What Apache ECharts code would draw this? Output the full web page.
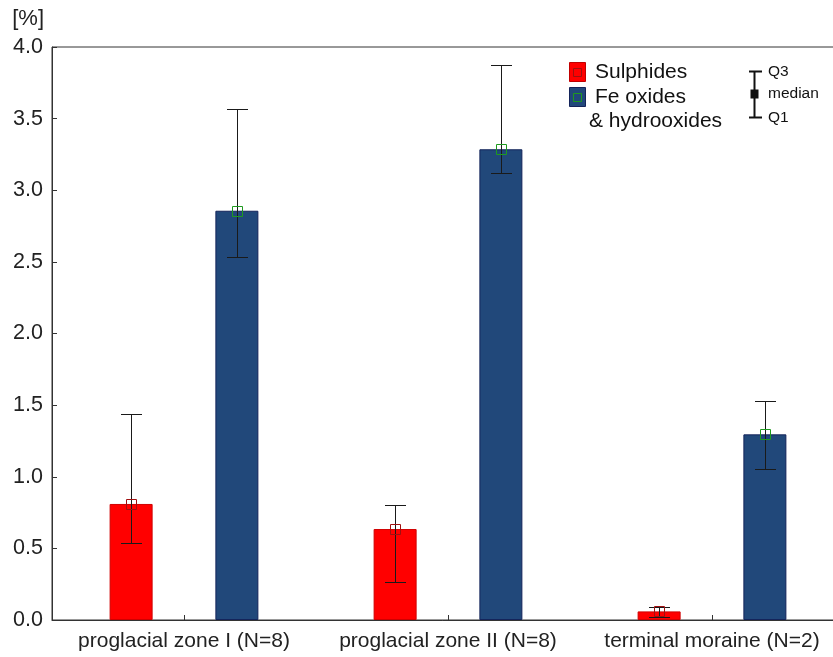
<!DOCTYPE html>
<html>
<head>
<meta charset="utf-8">
<script src="https://cdn.jsdelivr.net/npm/echarts@6/dist/echarts.min.js"></script>
<style>
  html, body { margin: 0; padding: 0; background: #fff; }
  #chart { width: 833px; height: 657px; }
</style>
</head>
<body>
<div id="chart"></div>
<script>
// data
const categories = ['proglacial zone I (N=8)', 'proglacial zone II (N=8)', 'terminal moraine (N=2)'];
const sulphMedian = [0.81, 0.635, 0.06];
const sulphQ1 = [0.535, 0.265, 0.023];
const sulphQ3 = [1.436, 0.80, 0.093];
const feMedian = [2.857, 3.286, 1.296];
const feQ1 = [2.532, 3.118, 1.052];
const feQ3 = [3.567, 3.872, 1.531];
const yTicks = [0, 0.5, 1, 1.5, 2, 2.5, 3, 3.5, 4];

const FONT = 'Liberation Sans, Arial, sans-serif';
const RED = '#ff0000';
const BLUE = '#21487a';

// whisker + median square, shifted left/right of category center
function whiskers(offset, markColor) {
  return function (params, api) {
    const idx = api.value(0);
    const catW = api.size([1, 0])[0];
    const cx = Math.round(api.coord([idx, 0])[0] + offset * catW) + 0.5;
    const yq1 = Math.round(api.coord([idx, api.value(1)])[1]) + 0.5;
    const ymed = api.coord([idx, api.value(2)])[1];
    const yq3 = Math.round(api.coord([idx, api.value(3)])[1]) + 0.5;
    const cap = 10.5;
    const ls = { stroke: '#1a1a1a', lineWidth: 1 };
    return {
      type: 'group',
      children: [
        { type: 'line', shape: { x1: cx, y1: yq3, x2: cx, y2: yq1 }, style: ls },
        { type: 'line', shape: { x1: cx - cap, y1: yq3, x2: cx + cap, y2: yq3 }, style: ls },
        { type: 'line', shape: { x1: cx - cap, y1: yq1, x2: cx + cap, y2: yq1 }, style: ls },
        { type: 'rect', shape: { x: cx - 5, y: Math.round(ymed) - 4.5, width: 10, height: 10 },
          style: { fill: 'none', stroke: markColor, lineWidth: 1 } }
      ]
    };
  };
}

const sulphBox = categories.map((c, i) => [i, sulphQ1[i], sulphMedian[i], sulphQ3[i]]);
const feBox = categories.map((c, i) => [i, feQ1[i], feMedian[i], feQ3[i]]);

const chart = echarts.init(document.getElementById('chart'));
chart.setOption({
  animation: false,
  backgroundColor: '#fff',
  grid: {
    left: 52, width: 792, top: 47, bottom: 37,
    outerBoundsMode: 'none', containLabel: false,
    show: true, borderColor: '#333', borderWidth: 1, backgroundColor: 'transparent'
  },
  xAxis: {
    type: 'category',
    data: categories,
    axisLine: { lineStyle: { color: '#333', width: 1 } },
    axisTick: { show: true, inside: true, alignWithLabel: true, length: 5, lineStyle: { color: '#333' } },
    axisLabel: { color: '#222', fontSize: 21, fontFamily: FONT, margin: 11, interval: 0 },
    splitLine: { show: false }
  },
  yAxis: {
    type: 'value',
    min: 0, max: 4, interval: 0.5,
    name: '[%]',
    nameLocation: 'end',
    nameGap: 28,
    nameTextStyle: { color: '#222', fontSize: 22, fontFamily: FONT, align: 'right', verticalAlign: 'middle', padding: [0, 8, 0, 0] },
    axisLine: { show: true, lineStyle: { color: '#333', width: 1 } },
    axisTick: { show: true, inside: true, length: 5, lineStyle: { color: '#333' } },
    axisLabel: {
      color: '#222', fontSize: 21.5, fontFamily: FONT, margin: 9,
      formatter: v => yTicks.indexOf(v) >= 0 ? v.toFixed(1) : ''
    },
    splitLine: { show: false }
  },
  series: [
    {
      name: 'Sulphides', type: 'bar', data: sulphMedian,
      barWidth: 43, barGap: '146%',
      itemStyle: { color: RED, borderColor: '#d00000', borderWidth: 1 }
    },
    {
      name: 'Fe oxides & hydrooxides', type: 'bar', data: feMedian,
      barWidth: 43,
      itemStyle: { color: BLUE, borderColor: '#14245a', borderWidth: 1 }
    },
    {
      type: 'custom', z: 5, data: sulphBox,
      encode: { x: 0, y: [1, 2, 3] },
      renderItem: whiskers(-0.2, '#a01010')
    },
    {
      type: 'custom', z: 5, data: feBox,
      encode: { x: 0, y: [1, 2, 3] },
      renderItem: whiskers(0.2, '#1f9a1f')
    }
  ],
  graphic: [
    // legend
    { type: 'rect', shape: { x: 569.5, y: 62.5, width: 16, height: 19 }, style: { fill: RED, stroke: '#c00000', lineWidth: 1 } },
    { type: 'rect', shape: { x: 573.5, y: 68.5, width: 8, height: 8 }, style: { fill: 'none', stroke: '#a01010', lineWidth: 1 } },
    { type: 'rect', shape: { x: 569.5, y: 87.5, width: 16, height: 19 }, style: { fill: BLUE, stroke: '#14245a', lineWidth: 1 } },
    { type: 'rect', shape: { x: 573.5, y: 93.5, width: 8, height: 8 }, style: { fill: 'none', stroke: '#1f9a1f', lineWidth: 1 } },
    { type: 'text', x: 595, y: 72, style: { text: 'Sulphides', fill: '#111', font: '21px ' + FONT, verticalAlign: 'middle' } },
    { type: 'text', x: 595, y: 97, style: { text: 'Fe oxides', fill: '#111', font: '21px ' + FONT, verticalAlign: 'middle' } },
    { type: 'text', x: 589, y: 121, style: { text: '& hydrooxides', fill: '#111', font: '21px ' + FONT, verticalAlign: 'middle' } },
    // whisker key
    { type: 'line', shape: { x1: 754.5, y1: 71.5, x2: 754.5, y2: 117.5 }, style: { stroke: '#111', lineWidth: 2 } },
    { type: 'line', shape: { x1: 749, y1: 71.5, x2: 762, y2: 71.5 }, style: { stroke: '#111', lineWidth: 2 } },
    { type: 'line', shape: { x1: 749, y1: 117.5, x2: 762, y2: 117.5 }, style: { stroke: '#111', lineWidth: 2 } },
    { type: 'rect', shape: { x: 750.5, y: 89.5, width: 8, height: 9 }, style: { fill: '#111' } },
    { type: 'text', x: 768, y: 72, style: { text: 'Q3', fill: '#111', font: '15.5px ' + FONT, verticalAlign: 'middle' } },
    { type: 'text', x: 768, y: 94, style: { text: 'median', fill: '#111', font: '15.5px ' + FONT, verticalAlign: 'middle' } },
    { type: 'text', x: 768, y: 118, style: { text: 'Q1', fill: '#111', font: '15.5px ' + FONT, verticalAlign: 'middle' } }
  ]
});
</script>
</body>
</html>
